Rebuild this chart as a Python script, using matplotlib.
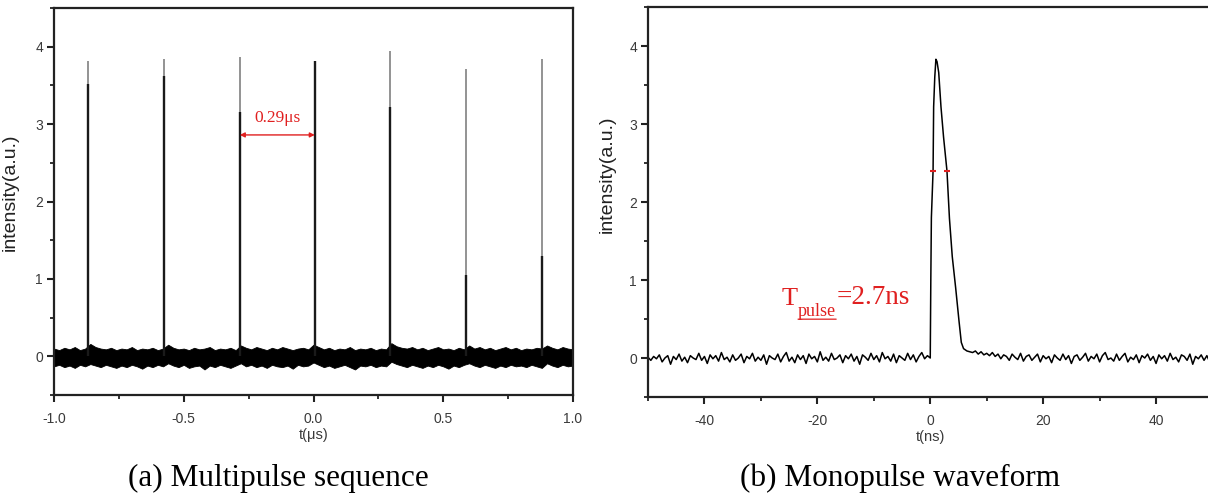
import numpy as np
import matplotlib
matplotlib.use("Agg")
import matplotlib.pyplot as plt
from matplotlib.ticker import MultipleLocator, FormatStrFormatter

plt.rcParams['axes.unicode_minus'] = False

# ---------------- data: panel (a) multipulse sequence ----------------
pulse_t = [-0.869, -0.578, -0.284, 0.005, 0.296, 0.587, 0.879]      # µs
pulse_peak = [3.81, 3.84, 3.87, 3.82, 3.95, 3.71, 3.84]
pulse_dark = [3.52, 3.62, 3.15, 3.82, 3.22, 1.05, 1.30]

env_t = np.linspace(-1.0, 1.0, 101)
env_upper = [0.10,0.08,0.11,0.09,0.12,0.08,0.10,0.16,0.12,0.10,
             0.09,0.11,0.08,0.10,0.09,0.12,0.08,0.10,0.09,0.11,
             0.08,0.10,0.15,0.11,0.09,0.10,0.08,0.11,0.09,0.10,
             0.12,0.08,0.10,0.09,0.11,0.08,0.14,0.11,0.09,0.12,
             0.10,0.08,0.11,0.09,0.12,0.10,0.08,0.10,0.11,0.09,
             0.15,0.12,0.09,0.11,0.08,0.10,0.09,0.12,0.08,0.10,
             0.09,0.11,0.08,0.10,0.09,0.17,0.13,0.11,0.10,0.12,
             0.09,0.11,0.08,0.10,0.12,0.09,0.10,0.08,0.11,0.09,
             0.14,0.10,0.12,0.09,0.11,0.08,0.10,0.12,0.09,0.11,
             0.08,0.10,0.09,0.11,0.10,0.14,0.11,0.09,0.12,0.10,
             0.09]
env_lower = [-0.13,-0.11,-0.14,-0.12,-0.15,-0.11,-0.13,-0.10,-0.12,-0.14,
             -0.11,-0.13,-0.15,-0.12,-0.14,-0.11,-0.13,-0.16,-0.12,-0.14,
             -0.11,-0.13,-0.09,-0.12,-0.14,-0.11,-0.15,-0.13,-0.12,-0.17,
             -0.12,-0.14,-0.11,-0.13,-0.15,-0.12,-0.09,-0.13,-0.11,-0.14,
             -0.12,-0.15,-0.11,-0.13,-0.14,-0.12,-0.16,-0.11,-0.13,-0.12,
             -0.08,-0.11,-0.14,-0.12,-0.15,-0.13,-0.11,-0.14,-0.17,-0.12,
             -0.13,-0.11,-0.14,-0.12,-0.13,-0.07,-0.10,-0.12,-0.14,-0.11,
             -0.13,-0.15,-0.12,-0.14,-0.11,-0.13,-0.16,-0.12,-0.14,-0.11,
             -0.09,-0.12,-0.14,-0.11,-0.13,-0.15,-0.12,-0.14,-0.11,-0.13,
             -0.12,-0.14,-0.11,-0.13,-0.15,-0.09,-0.12,-0.14,-0.11,-0.13,
             -0.12]

period_start, period_end, period_y = -0.284, 0.005, 2.86
period_label = "0.29μs"

# ---------------- data: panel (b) monopulse waveform ----------------
base_left_t = np.arange(-50.0, 0.0, 0.5)
base_left_v = [0.01,-0.03,0.02,-0.01,0.04,-0.05,0.00,0.03,-0.08,0.02,
               -0.02,0.05,-0.04,0.01,-0.06,0.03,0.00,-0.02,0.06,-0.03,
               0.02,-0.07,0.04,-0.01,0.03,-0.04,0.07,-0.02,0.01,-0.05,
               0.04,-0.03,0.00,0.05,-0.06,0.02,-0.01,0.06,-0.04,0.01,
               -0.03,0.04,-0.08,0.03,0.00,-0.02,0.05,-0.05,0.02,0.07,
               -0.04,0.01,-0.06,0.04,-0.02,0.03,-0.07,0.05,-0.01,0.02,
               -0.05,0.08,-0.03,0.01,-0.04,0.06,-0.02,0.00,0.04,-0.06,
               0.03,-0.01,0.05,-0.04,0.02,-0.08,0.04,0.01,-0.03,0.06,
               -0.02,0.03,-0.05,0.07,-0.01,0.02,-0.04,0.05,-0.06,0.03,
               0.00,-0.03,0.06,-0.02,0.04,-0.05,0.02,0.07,-0.01,0.03]
pulse_core_t = [0.0, 0.1, 0.2, 0.5, 0.6, 0.8, 1.0, 1.2, 1.5, 1.9, 2.36, 2.96,
                3.4, 3.9, 4.5, 5.1, 5.5, 5.9, 6.5]
pulse_core_v = [0.0, 1.0, 1.8, 2.4, 3.22, 3.6, 3.83, 3.8, 3.66, 3.22, 2.83, 2.4,
                1.79, 1.3, 0.9, 0.47, 0.2, 0.12, 0.09]
base_right_t = np.arange(7.0, 50.5, 0.5)
base_right_v = [0.08,0.07,0.09,0.05,0.08,0.04,0.06,0.03,0.07,0.02,
                0.05,-0.01,0.04,0.02,-0.03,0.05,0.01,-0.02,0.06,-0.04,
                0.02,0.04,-0.03,0.01,0.05,-0.05,0.03,-0.01,0.02,-0.06,
                0.04,0.00,-0.03,0.05,-0.02,0.03,-0.07,0.02,0.04,-0.03,
                0.01,0.06,-0.04,0.02,-0.01,0.05,-0.05,0.03,0.07,-0.02,
                0.00,-0.04,0.05,-0.03,0.02,0.06,-0.05,0.01,-0.02,0.04,
                -0.06,0.03,0.00,0.05,-0.03,0.02,-0.07,0.04,-0.01,0.03,
                -0.04,0.06,-0.02,0.01,-0.05,0.04,0.02,-0.03,0.05,-0.08,
                0.02,-0.01,0.04,-0.03,0.03,-0.05,0.01]
fwhm_t = [0.5, 2.96]
fwhm_y = 2.4

sans = 'Liberation Sans'
serif = 'Liberation Serif'
red = '#e02020'
tick_color = '#3a3a3a'

fig = plt.figure(figsize=(12.08, 4.95), dpi=100)
axa = fig.add_axes([54/1208, 1-395/495, (573-54)/1208, (395-8)/495])
axb = fig.add_axes([648/1208, 1-397/495, (1212.5-648)/1208, (397-7)/495])

def style(ax):
    for s in ax.spines.values():
        s.set_linewidth(1.6)
        s.set_color('#222222')
    ax.tick_params(which='major', direction='out', length=5, width=1.5,
                   colors='#222222', labelcolor=tick_color, labelsize=10, pad=3)
    ax.tick_params(axis='x', which='major', pad=7)
    ax.tick_params(which='minor', direction='out', length=3, width=1.3, colors='#222222')
    for lab in ax.get_xticklabels() + ax.get_yticklabels():
        lab.set_fontfamily(sans)
    ax.set_ylim(-0.5, 4.5)
    ax.yaxis.set_major_locator(MultipleLocator(1))
    ax.yaxis.set_minor_locator(MultipleLocator(0.5))

# panel (a)
axa.fill_between(env_t, env_lower, env_upper, color='black', lw=0.6, edgecolor='black')
axa.vlines(pulse_t, 0, pulse_peak, color='#8a8a8a', lw=1.3)
axa.vlines(pulse_t, 0, pulse_dark, color='#1a1a1a', lw=1.7)
axa.set_xlim(-1.0, 1.0)
axa.xaxis.set_major_locator(MultipleLocator(0.5))
axa.xaxis.set_minor_locator(MultipleLocator(0.25))
axa.xaxis.set_major_formatter(FormatStrFormatter('%.1f'))
style(axa)
axa.annotate('', xy=(period_start, period_y), xytext=(period_end, period_y),
             arrowprops=dict(arrowstyle='<|-|>', color=red, lw=1.0,
                             mutation_scale=7, shrinkA=0, shrinkB=0))
axa.text((period_start + period_end) / 2, period_y + 0.12, period_label,
         color=red, fontfamily=serif, fontsize=12.5, ha='center', va='bottom')
axa.set_xlabel('t(μs)', fontfamily=sans, fontsize=10.5, color=tick_color, labelpad=2)
axa.set_ylabel('intensity(a.u.)', fontfamily=sans, fontsize=14, color='#222222')
axa.yaxis.set_label_coords(-0.068, 0.525)

# panel (b)
tb = np.concatenate([base_left_t, pulse_core_t, base_right_t])
vb = np.concatenate([base_left_v, pulse_core_v, base_right_v])
axb.plot(tb, vb, color='black', lw=1.1)
axb.plot(fwhm_t, [fwhm_y, fwhm_y], ls='none', marker='_', ms=4, mew=1.5, color=red)
axb.set_xlim(-50, 50)
axb.xaxis.set_major_locator(MultipleLocator(20))
axb.xaxis.set_minor_locator(MultipleLocator(10))
style(axb)

tT = axb.text(-26.4, 0.68, 'T', color=red, fontfamily=serif, fontsize=19,
              ha='left', va='baseline')
tsub = axb.annotate('pulse', xy=(1, 0), xycoords=tT, xytext=(0.5, -4),
                    textcoords='offset points', color=red, fontfamily=serif,
                    fontsize=13, ha='left', va='baseline')
axb.annotate('=2.7ns', xy=(1, 0), xycoords=(tsub, tT), xytext=(0.5, 0),
             textcoords='offset points', color=red, fontfamily=serif,
             fontsize=19.5, ha='left', va='bottom')
axb.annotate('', xy=(0, 0.02), xycoords=tsub, xytext=(1, 0.02), textcoords=tsub,
             arrowprops=dict(arrowstyle='-', color=red, lw=0.9, shrinkA=0, shrinkB=0))

axb.set_xlabel('t(ns)', fontfamily=sans, fontsize=10.5, color=tick_color, labelpad=2)
axb.set_ylabel('intensity(a.u.)', fontfamily=sans, fontsize=14, color='#222222')
axb.yaxis.set_label_coords(-0.058, 0.57)

fig.text(278/1208, 1-478/495, '(a) Multipulse sequence', fontfamily=serif,
         fontsize=22.5, ha='center', va='center')
fig.text(900/1208, 1-478/495, '(b) Monopulse waveform', fontfamily=serif,
         fontsize=22.5, ha='center', va='center')

fig.savefig('out.png', dpi=100)
